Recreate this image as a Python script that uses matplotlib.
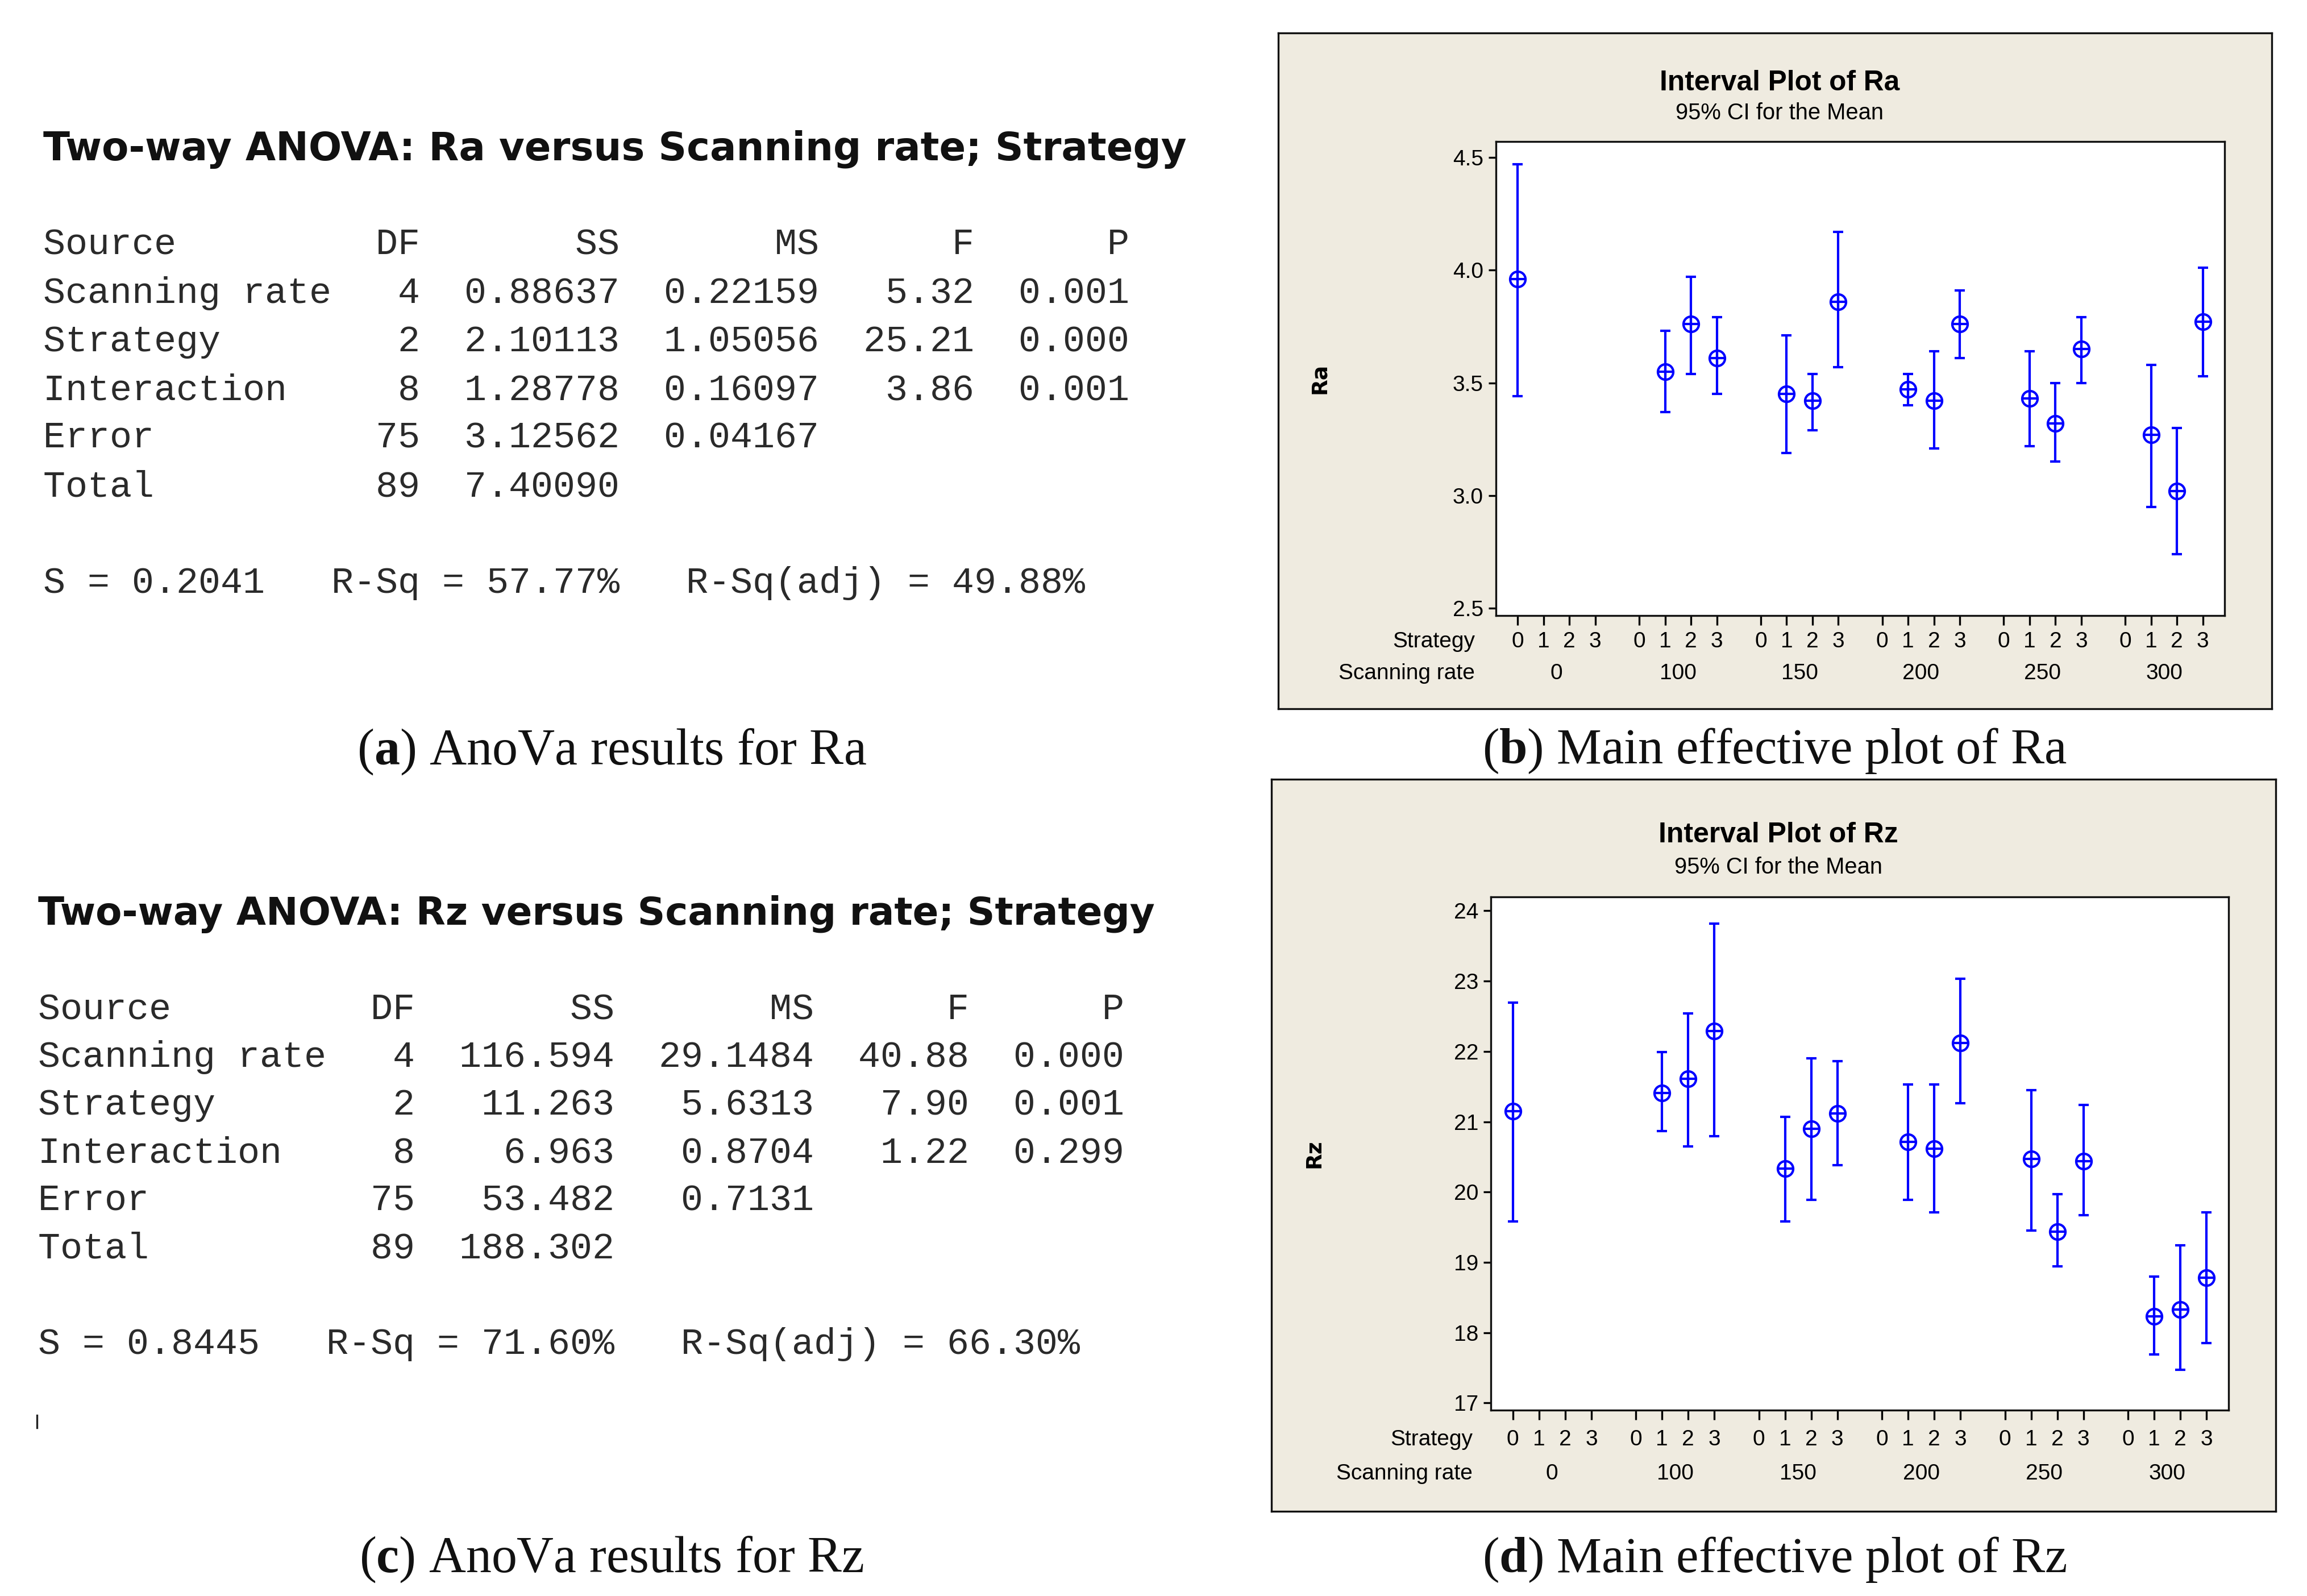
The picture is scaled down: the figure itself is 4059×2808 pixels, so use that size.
import numpy as np
import matplotlib
matplotlib.use("Agg")
import matplotlib.pyplot as plt
from matplotlib.lines import Line2D

W, H = 4059, 2808
PT = 72 / 100  # points per pixel at dpi=100

nan = np.nan
scan_rates = [0, 100, 150, 200, 250, 300]
strategies = [0, 1, 2, 3]

# interval plots: rows = scanning rate, columns = strategy (nan = no data)
ra_mean = [[3.96, nan, nan, nan],
           [nan, 3.55, 3.76, 3.61],
           [nan, 3.45, 3.42, 3.86],
           [nan, 3.47, 3.42, 3.76],
           [nan, 3.43, 3.32, 3.65],
           [nan, 3.27, 3.02, 3.77]]
ra_low = [[3.44, nan, nan, nan],
          [nan, 3.37, 3.54, 3.45],
          [nan, 3.19, 3.29, 3.57],
          [nan, 3.40, 3.21, 3.61],
          [nan, 3.22, 3.15, 3.50],
          [nan, 2.95, 2.74, 3.53]]
ra_high = [[4.47, nan, nan, nan],
           [nan, 3.73, 3.97, 3.79],
           [nan, 3.71, 3.54, 4.17],
           [nan, 3.54, 3.64, 3.91],
           [nan, 3.64, 3.50, 3.79],
           [nan, 3.58, 3.30, 4.01]]

rz_mean = [[21.15, nan, nan, nan],
           [nan, 21.41, 21.61, 22.29],
           [nan, 20.33, 20.90, 21.12],
           [nan, 20.71, 20.62, 22.12],
           [nan, 20.47, 19.44, 20.44],
           [nan, 18.23, 18.33, 18.78]]
rz_low = [[19.58, nan, nan, nan],
          [nan, 20.87, 20.65, 20.79],
          [nan, 19.58, 19.89, 20.38],
          [nan, 19.89, 19.71, 21.26],
          [nan, 19.45, 18.94, 19.67],
          [nan, 17.69, 17.47, 17.85]]
rz_high = [[22.69, nan, nan, nan],
           [nan, 21.99, 22.54, 23.82],
           [nan, 21.07, 21.90, 21.86],
           [nan, 21.53, 21.53, 23.03],
           [nan, 21.45, 19.97, 21.24],
           [nan, 18.80, 19.24, 19.71]]

# ANOVA tables
sources = ["Scanning rate", "Strategy", "Interaction", "Error", "Total"]
anova_df = ["4", "2", "8", "75", "89"]
ra_ss = ["0.88637", "2.10113", "1.28778", "3.12562", "7.40090"]
ra_ms = ["0.22159", "1.05056", "0.16097", "0.04167", ""]
ra_f = ["5.32", "25.21", "3.86", "", ""]
ra_p = ["0.001", "0.000", "0.001", "", ""]
ra_fit = ["0.2041", "57.77%", "49.88%"]
rz_ss = ["116.594", "11.263", "6.963", "53.482", "188.302"]
rz_ms = ["29.1484", "5.6313", "0.8704", "0.7131", ""]
rz_f = ["40.88", "7.90", "1.22", "", ""]
rz_p = ["0.000", "0.001", "0.299", "", ""]
rz_fit = ["0.8445", "71.60%", "66.30%"]

GROUP_STEP = 4.7
BLUE = "#0000FF"
PANEL_BG = "#EFEBE0"

plt.rcParams["font.family"] = ["Liberation Sans", "DejaVu Sans"]
plt.rcParams["mathtext.fontset"] = "custom"
plt.rcParams["mathtext.rm"] = "Liberation Serif"
plt.rcParams["mathtext.bf"] = "Liberation Serif:bold"

fig = plt.figure(figsize=(W / 100, H / 100), dpi=100)
fig.patch.set_facecolor("white")


def fig_rect(x0, y0, x1, y1):
    return [x0 / W, 1 - y1 / H, (x1 - x0) / W, (y1 - y0) / H]


def fit(t, width):
    r = fig.canvas.get_renderer()
    t.set_fontsize(t.get_fontsize() * width / t.get_window_extent(r).width)


def anova_block(name, left, title_base, title_w, row_base, row_gap, fit_base,
                ss, ms, f, p, fit_vals):
    t = fig.text(left / W, 1 - title_base / H,
                 f"Two-way ANOVA: {name} versus Scanning rate; Strategy",
                 family="DejaVu Sans", weight="bold", fontsize=40,
                 ha="left", va="baseline", color="#111111")
    fit(t, title_w)
    lines = [f"{'Source':<13}{'DF':>4}{'SS':>9}{'MS':>9}{'F':>7}{'P':>7}"]
    for i, src in enumerate(sources):
        lines.append(f"{src:<13}{anova_df[i]:>4}{ss[i]:>9}{ms[i]:>9}{f[i]:>7}{p[i]:>7}".rstrip())
    for i, line in enumerate(lines):
        fig.text(left / W, 1 - (row_base + i * row_gap) / H, line,
                 family="Liberation Mono", fontsize=39 / 0.6 * PT,
                 ha="left", va="baseline", color="#2a2a2a")
    fig.text(left / W, 1 - fit_base / H,
             f"S = {fit_vals[0]}   R-Sq = {fit_vals[1]}   R-Sq(adj) = {fit_vals[2]}",
             family="Liberation Mono", fontsize=39 / 0.6 * PT,
             ha="left", va="baseline", color="#2a2a2a")


def interval_panel(frame, box, name, mean, low, high, ylim, yticks, yfmt,
                   title_base, sub_base, ylabel_x, strat_base, rate_base, row_dx):
    bg = fig.add_axes(fig_rect(*frame))
    bg.set_facecolor(PANEL_BG)
    bg.set_xticks([])
    bg.set_yticks([])
    for sp in bg.spines.values():
        sp.set_linewidth(2.4)
        sp.set_color("#111111")

    ax = fig.add_axes(fig_rect(*box))
    xs, ms, lo, hi = [], [], [], []
    for g in range(len(scan_rates)):
        for s in range(len(strategies)):
            if np.isnan(mean[g][s]):
                continue
            xs.append(g * GROUP_STEP + s)
            ms.append(mean[g][s])
            lo.append(low[g][s])
            hi.append(high[g][s])
    ms, lo, hi = np.array(ms), np.array(lo), np.array(hi)
    ax.errorbar(xs, ms, yerr=[ms - lo, hi - ms], fmt="none", ecolor=BLUE,
                elinewidth=3.0, capsize=6.5, capthick=3.0, zorder=2)
    ax.plot(xs, ms, "o", ms=19.5, mfc="none", mec=BLUE, mew=3.0, zorder=3)
    ax.plot(xs, ms, "+", ms=19.5, mec=BLUE, mew=3.0, zorder=3)

    ticks = [g * GROUP_STEP + s for g in range(len(scan_rates)) for s in range(len(strategies))]
    ax.set_xticks(ticks)
    ax.set_xticklabels([str(s) for _ in scan_rates for s in strategies])
    ax.set_xlim(-0.84, (len(scan_rates) - 1) * GROUP_STEP + 3 + 0.84)
    ax.set_ylim(*ylim)
    ax.set_yticks(yticks)
    ax.set_yticklabels([yfmt.format(v) for v in yticks])
    ax.tick_params(axis="x", length=17 * PT, width=2.4, pad=(strat_base - 17) * PT,
                   labelsize=28, direction="out")
    ax.tick_params(axis="y", length=13 * PT, width=2.4, pad=9 * PT,
                   labelsize=28, direction="out")
    plt.setp(ax.get_xticklabels(), va="baseline")
    for sp in ax.spines.values():
        sp.set_linewidth(2.4)
        sp.set_color("#111111")

    for g, rate in enumerate(scan_rates):
        ax.annotate(str(rate), xy=(g * GROUP_STEP + 1.5, 0), xycoords=ax.get_xaxis_transform(),
                    xytext=(0, -rate_base * PT), textcoords="offset points",
                    ha="center", va="baseline", fontsize=28)
    ax.annotate("Strategy", xy=(0, 0), xycoords="axes fraction",
                xytext=(-row_dx * PT, -strat_base * PT), textcoords="offset points",
                ha="right", va="baseline", fontsize=28)
    ax.annotate("Scanning rate", xy=(0, 0), xycoords="axes fraction",
                xytext=(-row_dx * PT, -rate_base * PT), textcoords="offset points",
                ha="right", va="baseline", fontsize=28)

    cx = (frame[0] + frame[2]) / 2 + 8
    t = fig.text(cx / W, 1 - title_base / H, f"Interval Plot of {name}",
                 weight="bold", fontsize=36, ha="center", va="baseline")
    fit(t, 422)
    t = fig.text(cx / W, 1 - sub_base / H, "95% CI for the Mean",
                 fontsize=28, ha="center", va="baseline")
    fit(t, 366)
    fig.text(ylabel_x / W, 1 - (box[1] + box[3]) / 2 / H, name, rotation=90,
             family="DejaVu Sans", weight="bold", fontsize=27, ha="center", va="center")
    return ax


# left column: ANOVA output
anova_block("Ra", 76, 282, 2009, 448, 85, 1043, ra_ss, ra_ms, ra_f, ra_p, ra_fit)
anova_block("Rz", 67, 1627, 1962, 1793, 84, 2382, rz_ss, rz_ms, rz_f, rz_p, rz_fit)
fig.add_artist(Line2D([65 / W, 65 / W], [1 - 2490 / H, 1 - 2512 / H], lw=2.4, color="#222222"))

# right column: interval plots
interval_panel((2249, 58, 3997, 1247), (2632, 249, 3914, 1083), "Ra",
               ra_mean, ra_low, ra_high, (2.468, 4.570), [2.5, 3.0, 3.5, 4.0, 4.5], "{:.1f}",
               159, 210, 2322, 56, 112, 37)
interval_panel((2237, 1371, 4004, 2659), (2623, 1578, 3921, 2481), "Rz",
               rz_mean, rz_low, rz_high, (16.898, 24.197), list(range(17, 25)), "{:d}",
               1482, 1537, 2312, 62, 122, 32)

# captions
captions = [(r"($\mathbf{a}$) AnoVa results for Ra", 1076, 1345, 897),
            (r"($\mathbf{b}$) Main effective plot of Ra", 3122, 1343, 1029),
            (r"($\mathbf{c}$) AnoVa results for Rz", 1076, 2766, 889),
            (r"($\mathbf{d}$) Main effective plot of Rz", 3122, 2766, 1029)]
for text, cx, base, width in captions:
    t = fig.text(cx / W, 1 - base / H, text, family="Liberation Serif", fontsize=54,
                 ha="center", va="baseline", color="#111111")
    fit(t, width)

fig.savefig("out.png", dpi=100, facecolor="white")
